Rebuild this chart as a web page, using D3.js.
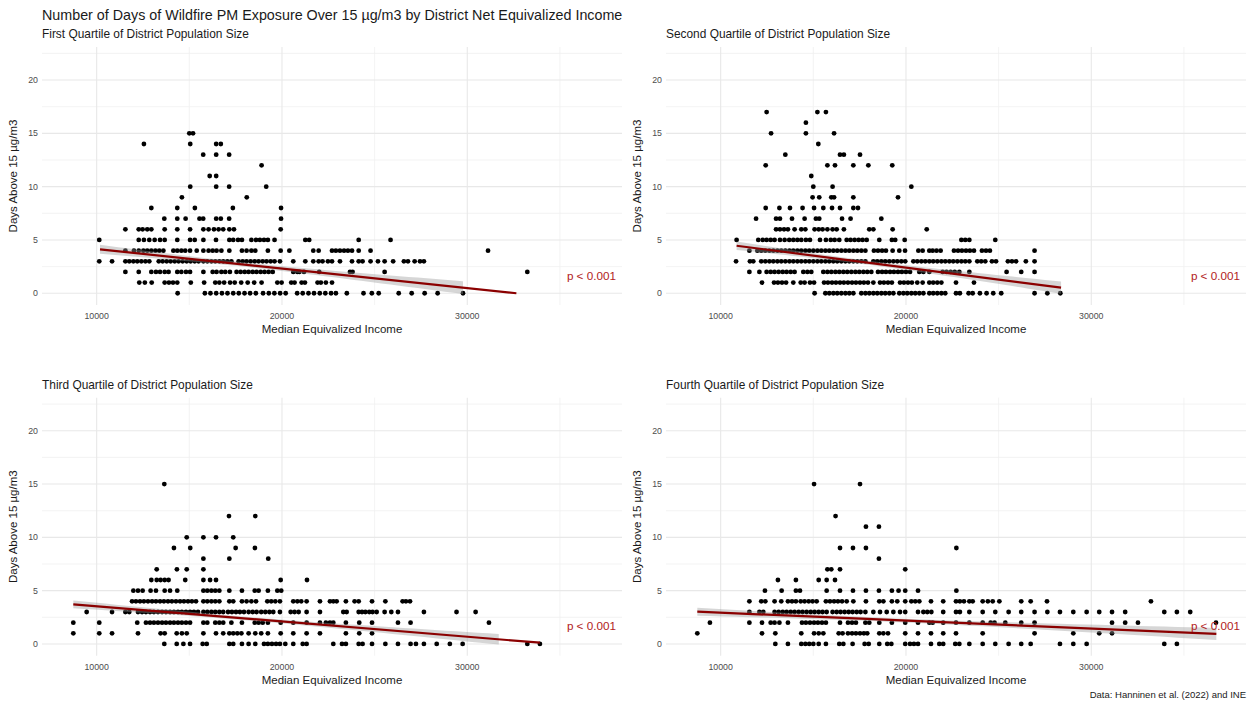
<!DOCTYPE html>
<html>
<head>
<meta charset="utf-8">
<script src="https://cdn.jsdelivr.net/npm/d3@7"></script>
<style>
  body { margin: 0; background: #fff; }
  text { font-family: "Liberation Sans", Arial, Helvetica, sans-serif; }
</style>
</head>
<body>
<svg id="chart" width="1251" height="703"></svg>
<script>
// median equivalized income in thousands of euros, grouped by days above 15 µg/m3
const q1Rows = [
  [15, [15.0, 15.2]],
  [14, [12.55, 15.05, 16.45, 16.7]],
  [13, [15.75, 16.45, 17.15]],
  [12, [18.9]],
  [11, [16.1, 16.45]],
  [10, [15.05, 16.45, 17.15, 19.15]],
  [9, [14.6, 18.1]],
  [8, [12.95, 14.35, 15.3, 17.35, 19.95]],
  [7, [13.65, 14.35, 14.8, 15.55, 15.75, 16.45, 16.7, 17.15, 19.95]],
  [6, [11.55, 12.27, 12.48, 12.73, 12.95, 13.67, 14.35, 15.04, 15.76, 16.04, 16.33, 16.58, 16.83, 17.16, 17.41, 19.93]],
  [5, [10.14, 12.27, 12.55, 12.84, 13.13, 13.42, 13.67, 14.35, 15.04, 15.29, 15.76, 16.44, 17.16, 17.37, 17.63, 17.84, 18.35, 18.6, 18.81, 19.03, 19.24, 19.6, 21.26, 21.47, 24.14, 25.86]],
  [4, [11.55, 12.01, 12.27, 12.52, 12.73, 12.95, 13.17, 13.38, 13.6, 14.14, 14.35, 14.57, 14.78, 15.04, 15.4, 15.76, 16.04, 16.26, 16.47, 16.73, 17.16, 17.84, 18.09, 18.35, 18.56, 19.24, 19.93, 20.4, 21.69, 21.98, 22.7, 22.91, 23.13, 23.35, 23.56, 23.78, 24.14, 24.78, 31.12]],
  [3, [10.14, 10.83, 11.55, 11.76, 11.98, 12.19, 12.41, 12.63, 12.84, 13.35, 13.56, 13.78, 13.99, 14.21, 14.42, 14.64, 14.86, 15.07, 15.29, 15.5, 15.76, 15.97, 16.19, 16.4, 16.62, 16.83, 17.05, 17.27, 17.66, 17.88, 18.09, 18.31, 18.53, 18.74, 18.96, 19.17, 19.39, 19.6, 19.89, 20.61, 21.26, 21.69, 21.98, 22.19, 22.48, 22.7, 23.13, 23.78, 24.14, 24.35, 24.78, 25.18, 25.54, 26.0, 26.58, 26.8, 27.16, 27.45, 27.66]],
  [2, [11.55, 12.27, 12.95, 13.2, 13.42, 13.67, 13.88, 14.35, 14.57, 14.82, 15.04, 15.76, 16.26, 16.47, 16.73, 16.94, 17.19, 17.55, 17.77, 17.99, 18.2, 18.42, 18.63, 18.85, 19.06, 19.28, 19.5, 20.61, 20.83, 20.94, 21.19, 22.01, 23.67, 23.81, 25.54, 33.24]],
  [1, [12.3, 12.6, 12.97, 13.67, 13.9, 14.12, 14.35, 15.08, 15.8, 16.4, 16.62, 16.88, 17.2, 17.45, 17.8, 18.15, 18.5, 18.9, 19.75, 19.98, 20.5, 20.68, 21.06, 21.24, 21.92, 22.1, 22.37, 22.7]],
  [0, [14.37, 15.84, 16.14, 16.45, 16.76, 17.06, 17.37, 17.67, 17.98, 18.28, 18.59, 18.98, 19.29, 19.59, 19.9, 20.2, 20.82, 21.12, 21.43, 21.73, 22.04, 22.34, 22.65, 22.91, 23.5, 24.4, 24.85, 25.22, 26.3, 27.0, 27.7, 28.4, 29.77]]
];

const q2Rows = [
  [17, [12.48, 15.22, 15.68]],
  [16, [14.6]],
  [15, [12.72, 14.6, 16.12]],
  [14, [15.27]],
  [13, [13.49, 16.44, 16.65, 17.52]],
  [12, [12.43, 15.76, 16.17, 17.16, 17.97, 19.26]],
  [11, [14.89]],
  [10, [15.0, 16.04, 20.29]],
  [9, [14.96, 15.32, 15.97, 16.12, 17.16, 19.57]],
  [8, [12.43, 13.17, 13.74, 14.42, 15.04, 15.54, 16.01, 16.44, 17.16, 17.41]],
  [7, [11.91, 12.99, 13.2, 13.85, 14.53, 15.14, 15.32, 16.55, 17.01, 18.67]],
  [6, [12.99, 13.2, 13.42, 13.63, 13.99, 14.35, 14.57, 15.07, 15.29, 15.5, 15.76, 16.04, 16.26, 16.65, 18.02, 18.24, 19.28, 21.12]],
  [5, [10.86, 12.03, 12.27, 12.48, 12.7, 12.91, 13.2, 13.45, 13.7, 13.92, 14.14, 14.35, 14.6, 14.82, 15.36, 15.68, 15.94, 16.15, 16.4, 16.8, 17.01, 17.23, 17.45, 17.66, 17.88, 18.56, 19.24, 19.42, 19.93, 22.99, 23.2, 23.42, 24.82]],
  [4, [11.55, 11.98, 12.19, 12.41, 12.63, 12.84, 13.06, 13.27, 13.49, 13.71, 13.92, 14.14, 14.35, 14.57, 14.78, 15.0, 15.22, 15.43, 15.65, 15.86, 16.08, 16.29, 16.51, 16.73, 16.94, 17.16, 17.37, 17.59, 17.81, 18.27, 18.49, 18.71, 18.92, 19.28, 19.64, 19.95, 20.67, 20.9, 21.26, 21.44, 21.65, 21.87, 22.59, 22.81, 23.02, 23.24, 23.45, 23.67, 24.1, 24.32, 24.53, 26.94]],
  [3, [10.83, 11.58, 11.76, 12.19, 12.41, 12.63, 12.84, 13.06, 13.27, 13.49, 13.71, 13.92, 14.14, 14.35, 14.57, 14.78, 15.0, 15.22, 15.43, 15.65, 15.86, 16.08, 16.29, 16.51, 16.73, 16.94, 17.16, 17.37, 17.59, 17.81, 18.24, 18.45, 18.67, 18.88, 19.1, 19.32, 19.53, 19.75, 19.96, 20.4, 20.61, 20.83, 21.04, 21.26, 21.47, 21.69, 21.91, 22.12, 22.34, 22.55, 22.77, 22.99, 23.2, 23.42, 23.85, 24.06, 24.28, 24.64, 24.86, 25.5, 25.72, 25.94, 26.47, 26.94]],
  [2, [11.55, 12.09, 12.48, 12.7, 12.91, 13.13, 13.35, 13.56, 13.78, 13.99, 14.46, 14.68, 14.89, 15.54, 15.76, 15.97, 16.19, 16.4, 16.62, 16.83, 17.05, 17.27, 17.48, 17.7, 17.91, 18.13, 18.49, 18.71, 18.92, 19.14, 19.35, 19.57, 19.78, 20.0, 20.22, 20.72, 20.94, 21.26, 21.98, 22.19, 22.41, 22.63, 22.88, 23.42, 25.43, 26.22, 26.94]],
  [1, [12.23, 12.88, 13.09, 13.31, 13.53, 13.92, 14.32, 14.53, 14.82, 15.04, 15.58, 15.79, 16.01, 16.22, 16.44, 16.65, 16.87, 17.09, 17.3, 17.52, 17.73, 17.95, 18.24, 18.6, 18.81, 19.03, 19.24, 19.68, 19.89, 20.11, 20.32, 20.61, 20.9, 21.26, 21.47, 21.69, 21.91, 22.7, 23.67]],
  [0, [15.07, 15.65, 15.86, 16.08, 16.29, 16.51, 16.73, 16.94, 17.16, 17.59, 17.81, 18.02, 18.24, 18.45, 18.67, 18.88, 19.1, 19.32, 19.64, 19.86, 20.07, 20.29, 20.5, 20.72, 20.94, 21.26, 21.47, 21.69, 21.91, 22.12, 22.7, 22.91, 23.38, 23.6, 23.99, 24.35, 24.71, 25.14, 26.94, 27.63, 28.33]]
];

const q3Rows = [
  [15, [13.65]],
  [12, [17.14, 18.56]],
  [10, [14.86, 15.76, 16.44, 17.37]],
  [9, [14.17, 15.05, 17.5, 18.54]],
  [8, [15.76, 17.16, 19.26]],
  [7, [13.24, 14.33, 14.86, 15.76]],
  [6, [12.95, 13.24, 13.45, 13.67, 13.88, 14.78, 15.76, 16.12, 16.44, 19.93, 21.35]],
  [5, [11.98, 12.23, 12.48, 12.91, 13.2, 13.67, 13.96, 14.35, 15.76, 15.97, 16.19, 16.4, 16.62, 17.16, 17.84, 18.53, 18.74, 19.24, 19.75, 19.96]],
  [4, [11.91, 12.12, 12.34, 12.55, 12.77, 12.99, 13.2, 13.42, 13.63, 13.85, 14.06, 14.28, 14.5, 14.71, 14.93, 15.14, 15.36, 15.76, 15.97, 16.19, 16.4, 16.62, 17.16, 17.37, 17.84, 18.09, 18.35, 18.6, 19.21, 19.42, 19.64, 19.89, 20.61, 20.83, 21.04, 21.33, 22.05, 22.59, 22.77, 22.95, 23.45, 23.92, 24.14, 24.86, 25.58, 26.51, 26.69, 26.91]],
  [3, [9.46, 10.83, 11.55, 11.76, 12.23, 12.45, 12.66, 12.88, 13.09, 13.31, 13.53, 13.74, 13.96, 14.17, 14.39, 14.6, 14.82, 15.04, 15.25, 15.47, 15.76, 15.97, 16.19, 16.4, 16.62, 16.83, 17.09, 17.3, 17.52, 17.73, 17.95, 18.2, 18.42, 18.63, 18.88, 19.1, 19.32, 19.53, 19.89, 20.47, 20.68, 20.9, 21.33, 22.05, 23.31, 23.49, 24.14, 24.32, 24.5, 24.71, 24.89, 25.11, 25.54, 25.9, 26.26, 27.66, 29.42, 30.45]],
  [2, [8.74, 10.14, 12.19, 12.66, 12.88, 13.09, 13.31, 13.53, 13.74, 13.96, 14.17, 14.39, 14.6, 14.82, 15.04, 15.76, 15.97, 16.4, 16.62, 16.83, 17.27, 17.84, 18.53, 18.74, 18.96, 19.24, 19.93, 20.61, 21.33, 22.05, 22.37, 22.59, 22.77, 23.45, 24.17, 24.86, 26.26, 26.94, 31.17]],
  [1, [8.74, 10.14, 10.83, 12.23, 13.45, 13.67, 14.32, 14.6, 14.86, 15.76, 16.44, 16.83, 17.16, 17.37, 17.59, 17.81, 18.2, 18.56, 18.88, 19.24, 19.93, 20.61, 21.33, 22.05, 23.45, 24.17, 24.86]],
  [0, [13.65, 14.32, 14.68, 15.04, 15.72, 15.94, 17.16, 17.37, 17.84, 18.2, 18.56, 19.03, 19.24, 19.46, 19.68, 19.89, 20.18, 20.61, 21.12, 21.33, 22.77, 23.24, 23.45, 24.14, 24.35, 24.86, 25.58, 26.26, 26.94, 27.23, 27.66, 28.35, 29.06, 29.75, 33.24, 33.92]]
];

const q4Rows = [
  [15, [15.04, 17.52]],
  [12, [16.2]],
  [11, [17.84, 18.54]],
  [9, [16.44, 17.14, 17.84, 22.72]],
  [8, [18.54]],
  [7, [15.76, 15.97, 16.44, 19.96]],
  [6, [13.09, 14.06, 15.29, 15.72, 16.17]],
  [5, [12.39, 13.29, 14.06, 14.28, 15.72, 16.44, 17.14, 17.84, 18.54, 19.24, 19.6, 19.96, 20.65, 22.72]],
  [4, [11.55, 12.19, 12.41, 12.91, 13.27, 13.63, 13.85, 14.06, 14.32, 14.53, 14.75, 14.96, 15.18, 15.68, 15.9, 16.12, 16.33, 16.55, 16.8, 17.16, 17.84, 18.56, 18.78, 19.24, 19.53, 19.96, 20.29, 20.5, 20.72, 21.35, 22.01, 22.7, 22.91, 23.13, 23.42, 23.6, 24.14, 24.42, 24.68, 25.04, 26.22, 26.73, 27.61, 33.22]],
  [3, [11.55, 12.09, 12.3, 12.91, 13.13, 13.35, 13.56, 13.78, 13.99, 14.21, 14.42, 14.64, 14.86, 15.07, 15.29, 15.5, 15.72, 16.04, 16.26, 16.47, 16.69, 16.91, 17.12, 17.34, 17.55, 17.81, 18.24, 18.6, 18.96, 19.32, 19.68, 19.96, 20.65, 20.94, 21.15, 21.37, 22.01, 22.7, 22.91, 23.42, 24.14, 24.82, 25.54, 26.22, 26.94, 27.63, 28.31, 29.03, 29.75, 30.43, 31.12, 31.83, 33.94, 34.62, 35.34]],
  [2, [9.42, 11.55, 12.23, 12.7, 12.91, 13.17, 13.63, 14.39, 14.6, 14.82, 15.04, 15.25, 15.47, 15.68, 16.44, 16.87, 17.09, 17.3, 17.81, 18.02, 18.56, 19.24, 19.96, 20.65, 21.26, 21.44, 22.01, 22.7, 23.42, 24.14, 24.57, 24.78, 25.36, 26.22, 26.94, 31.12, 31.83, 32.52, 36.73]],
  [1, [8.74, 12.23, 12.95, 14.35, 15.04, 15.29, 15.54, 16.37, 16.58, 16.87, 17.09, 17.3, 17.52, 17.73, 17.91, 18.56, 18.78, 19.03, 19.96, 20.65, 21.35, 22.01, 22.7, 24.14, 26.94, 29.03, 30.43, 31.12]],
  [0, [12.95, 13.63, 14.35, 14.57, 14.78, 15.0, 15.29, 15.68, 16.4, 16.62, 17.12, 17.77, 17.99, 18.56, 18.99, 19.21, 19.96, 20.22, 20.43, 20.65, 21.35, 21.8, 22.01, 22.66, 22.88, 23.42, 24.14, 24.82, 25.54, 26.22, 26.73, 28.31, 29.03, 29.75, 33.94, 34.62]]
];

const panelRows = [q1Rows, q2Rows, q3Rows, q4Rows];
const panelTitles = [
  "First Quartile of District Population Size",
  "Second Quartile of District Population Size",
  "Third Quartile of District Population Size",
  "Fourth Quartile of District Population Size"
];

// linear fit (income in thousands, days)
const fitStartIncome = [10.18, 10.86, 8.74, 8.74];
const fitStartDays = [4.12, 4.46, 3.72, 3.03];
const fitEndIncome = [32.65, 28.37, 33.92, 36.75];
const fitEndDays = [0.0, 0.53, 0.12, 0.94];
const bandEndIncome = [29.77, 28.37, 31.7, 36.75];

const xTicks = [10, 20, 30];
const xMinor = [15, 25, 35];
const yTicks = [0, 5, 10, 15, 20];
const yMinor = [2.5, 7.5, 12.5, 17.5, 22.5];
const pLabel = "p < 0.001";

const svg = d3.select("#chart");
const panelW = 580, panelH = 258;
const panelLeft = [42, 666];
const panelTop = [47, 397.7];

const x = d3.scaleLinear().domain([7.05, 38.35]).range([0, panelW]);
const y = d3.scaleLinear().domain([-1.1, 23.1]).range([panelH, 0]);

svg.append("text")
  .attr("x", 42).attr("y", 20)
  .style("font-size", "14.3px").attr("fill", "#1a1a1a")
  .text("Number of Days of Wildfire PM Exposure Over 15 µg/m3 by District Net Equivalized Income");

svg.append("text")
  .attr("x", 1246).attr("y", 698)
  .attr("text-anchor", "end")
  .style("font-size", "9.5px").attr("fill", "#1a1a1a")
  .text("Data: Hanninen et al. (2022) and INE");

panelRows.forEach((rows, i) => {
  const px = panelLeft[i % 2], py = panelTop[Math.floor(i / 2)];
  const g = svg.append("g").attr("transform", `translate(${px},${py})`);

  const pts = rows.flatMap(([days, incomes]) => incomes.map(inc => ({ inc, days })));

  // grid
  g.selectAll(".vminor").data(xMinor).enter().append("line")
    .attr("x1", d => x(d)).attr("x2", d => x(d)).attr("y1", 0).attr("y2", panelH)
    .attr("stroke", "#f0f0f0").attr("stroke-width", 0.8);
  g.selectAll(".hminor").data(yMinor).enter().append("line")
    .attr("x1", 0).attr("x2", panelW).attr("y1", d => y(d)).attr("y2", d => y(d))
    .attr("stroke", "#f0f0f0").attr("stroke-width", 0.8);
  g.selectAll(".vmajor").data(xTicks).enter().append("line")
    .attr("x1", d => x(d)).attr("x2", d => x(d)).attr("y1", 0).attr("y2", panelH)
    .attr("stroke", "#e8e8e8").attr("stroke-width", 1.1);
  g.selectAll(".hmajor").data(yTicks).enter().append("line")
    .attr("x1", 0).attr("x2", panelW).attr("y1", d => y(d)).attr("y2", d => y(d))
    .attr("stroke", "#e8e8e8").attr("stroke-width", 1.1);

  // axes labels
  g.selectAll(".ylab").data(yTicks).enter().append("text")
    .attr("x", -4).attr("y", d => y(d)).attr("dy", "0.35em")
    .attr("text-anchor", "end").style("font-size", "8.8px").attr("fill", "#4d4d4d")
    .text(d => d);
  g.selectAll(".xlab").data(xTicks).enter().append("text")
    .attr("x", d => x(d)).attr("y", panelH + 14)
    .attr("text-anchor", "middle").style("font-size", "8.8px").attr("fill", "#4d4d4d")
    .text(d => d * 1000);

  g.append("text")
    .attr("x", panelW / 2).attr("y", panelH + 28)
    .attr("text-anchor", "middle").style("font-size", "11.5px").attr("fill", "#1a1a1a")
    .text("Median Equivalized Income");
  g.append("text")
    .attr("transform", `translate(-25,${panelH / 2}) rotate(-90)`)
    .attr("text-anchor", "middle").style("font-size", "11.5px").attr("fill", "#1a1a1a")
    .text("Days Above 15 µg/m3");

  g.append("text")
    .attr("x", 0).attr("y", -9)
    .style("font-size", "11.9px").attr("fill", "#1a1a1a")
    .text(panelTitles[i]);

  // points
  g.selectAll(".pt").data(pts).enter().append("circle")
    .attr("cx", d => x(d.inc)).attr("cy", d => y(d.days)).attr("r", 2.4)
    .attr("fill", "#000");

  // confidence band around the fitted line
  const x0 = fitStartIncome[i], y0 = fitStartDays[i];
  const slope = (fitEndDays[i] - y0) / (fitEndIncome[i] - x0);
  const fit = v => y0 + slope * (v - x0);
  const n = pts.length;
  const xbar = d3.mean(pts, d => d.inc);
  const sxx = d3.sum(pts, d => (d.inc - xbar) ** 2);
  const s = Math.sqrt(d3.sum(pts, d => (d.days - fit(d.inc)) ** 2) / (n - 2));
  // the plotted points hide many overlapping districts, so the band is narrower
  const half = v => 0.55 * 1.96 * s * Math.sqrt(1 / n + (v - xbar) ** 2 / sxx);
  const bandX = d3.range(0, 41).map(k => x0 + (bandEndIncome[i] - x0) * k / 40);
  g.append("path")
    .datum(bandX)
    .attr("d", d3.area().x(v => x(v)).y0(v => y(fit(v) - half(v))).y1(v => y(fit(v) + half(v))))
    .attr("fill", "#999").attr("opacity", 0.4);

  g.append("path")
    .datum([[x0, y0], [fitEndIncome[i], fitEndDays[i]]])
    .attr("d", d3.line().x(d => x(d[0])).y(d => y(d[1])))
    .attr("stroke", "#8b0000").attr("stroke-width", 2.2).attr("fill", "none");

  g.append("text")
    .attr("x", x(36.7)).attr("y", y(1.65)).attr("dy", "0.35em")
    .attr("text-anchor", "middle").style("font-size", "11.7px").attr("fill", "#b22222")
    .text(pLabel);
});
</script>
</body>
</html>
